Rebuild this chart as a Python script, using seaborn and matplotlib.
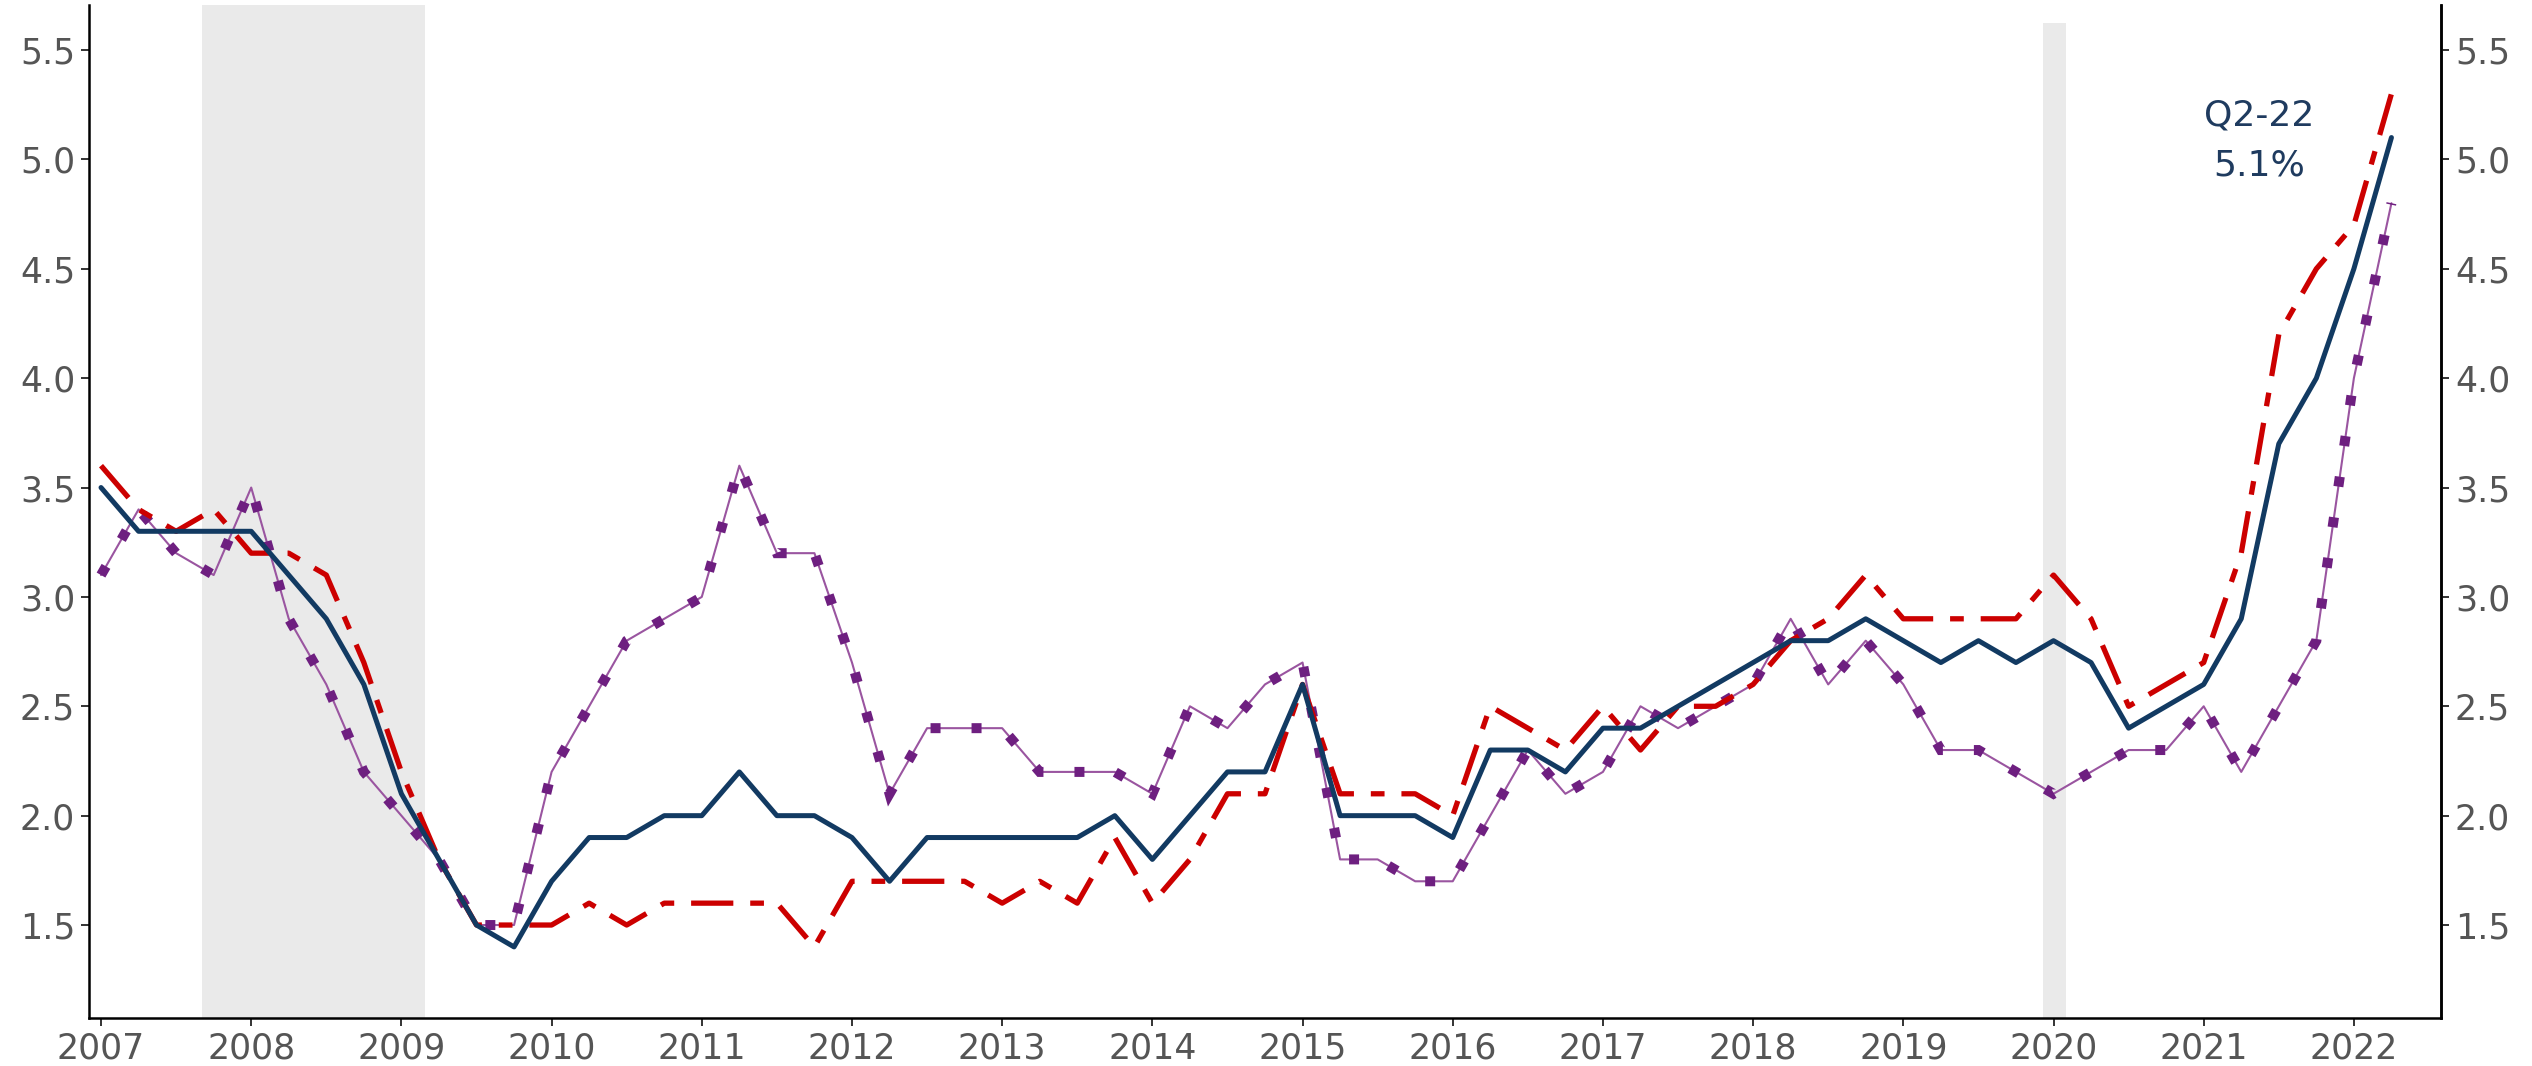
import numpy as np
import pandas as pd
import matplotlib
matplotlib.use("Agg")
import matplotlib.pyplot as plt
import seaborn as sns

# ---------------- data (quarterly, Q1-2007 .. Q2-2022) ----------------
years = [2007, 2008, 2009, 2010, 2011, 2012, 2013, 2014, 2015, 2016,
         2017, 2018, 2019, 2020, 2021, 2022]
n_quarters = 62

series_blue = [3.5, 3.3, 3.3, 3.3, 3.3, 3.1, 2.9, 2.6, 2.1, 1.8,
               1.5, 1.4, 1.7, 1.9, 1.9, 2.0, 2.0, 2.2, 2.0, 2.0,
               1.9, 1.7, 1.9, 1.9, 1.9, 1.9, 1.9, 2.0, 1.8, 2.0,
               2.2, 2.2, 2.6, 2.0, 2.0, 2.0, 1.9, 2.3, 2.3, 2.2,
               2.4, 2.4, 2.5, 2.6, 2.7, 2.8, 2.8, 2.9, 2.8, 2.7,
               2.8, 2.7, 2.8, 2.7, 2.4, 2.5, 2.6, 2.9, 3.7, 4.0,
               4.5, 5.1]

series_red = [3.6, 3.4, 3.3, 3.4, 3.2, 3.2, 3.1, 2.7, 2.2, 1.8,
              1.5, 1.5, 1.5, 1.6, 1.5, 1.6, 1.6, 1.6, 1.6, 1.4,
              1.7, 1.7, 1.7, 1.7, 1.6, 1.7, 1.6, 1.9, 1.6, 1.8,
              2.1, 2.1, 2.6, 2.1, 2.1, 2.1, 2.0, 2.5, 2.4, 2.3,
              2.5, 2.3, 2.5, 2.5, 2.6, 2.8, 2.9, 3.1, 2.9, 2.9,
              2.9, 2.9, 3.1, 2.9, 2.5, 2.6, 2.7, 3.2, 4.2, 4.5,
              4.7, 5.3]

series_purple = [3.1, 3.4, 3.2, 3.1, 3.5, 2.9, 2.6, 2.2, 2.0, 1.8,
                 1.5, 1.5, 2.2, 2.5, 2.8, 2.9, 3.0, 3.6, 3.2, 3.2,
                 2.7, 2.1, 2.4, 2.4, 2.4, 2.2, 2.2, 2.2, 2.1, 2.5,
                 2.4, 2.6, 2.7, 1.8, 1.8, 1.7, 1.7, 2.0, 2.3, 2.1,
                 2.2, 2.5, 2.4, 2.5, 2.6, 2.9, 2.6, 2.8, 2.6, 2.3,
                 2.3, 2.2, 2.1, 2.2, 2.3, 2.3, 2.5, 2.2, 2.5, 2.8,
                 4.0, 4.8]

recessions = [(2007.67, 2009.16, 1.0), (2019.93, 2020.08, 0.982)]
yticks = [1.5, 2.0, 2.5, 3.0, 3.5, 4.0, 4.5, 5.0, 5.5]
annot_label = "Q2-22"
annot_value = "5.1%"

# ---------------- build table ----------------
t = 2007 + np.arange(n_quarters) / 4.0
df = pd.DataFrame({"t": t, "blue": series_blue, "red": series_red,
                   "purple": series_purple})

# ---------------- style ----------------
sns.set_theme(style="ticks")
plt.rcParams["font.family"] = ["DejaVu Sans"]

C_BLUE = "#123a62"
C_RED = "#cc0000"
C_PURPLE_LINE = "#9a55a0"
C_PURPLE_DOT = "#6e1f80"
C_TEXT = "#555555"
C_ANN = "#1f3b5f"

fig = plt.figure(figsize=(25.32, 10.66), dpi=100)
ax = fig.add_axes([89 / 2532, 1 - 1018 / 1066, (2441 - 89) / 2532, (1018 - 5) / 1066])

for x0, x1, top in recessions:
    ax.axvspan(x0, x1, ymin=0, ymax=top, color="#eaeaea", lw=0, zorder=0)

# purple: thin line + square dotted overlay
sns.lineplot(data=df, x="t", y="purple", ax=ax, color=C_PURPLE_LINE,
             linewidth=1.5, zorder=3)
sns.lineplot(data=df, x="t", y="purple", ax=ax, color=C_PURPLE_DOT,
             linewidth=7.2, linestyle=(0, (1, 3.1)), zorder=3)
ax.lines[-1].set_dash_capstyle("butt")
ax.lines[-1].set_dash_joinstyle("miter")

# red dash-dot
sns.lineplot(data=df, x="t", y="red", ax=ax, color=C_RED, linewidth=3.8,
             linestyle=(0, (8, 3.2, 2.6, 3.2)), zorder=4)
# blue solid
sns.lineplot(data=df, x="t", y="blue", ax=ax, color=C_BLUE, linewidth=3.6,
             zorder=5)

ax.set_xlim(2006.92, 2022.58)
ax.set_ylim(1.075, 5.706)
ax.set_xlabel("")
ax.set_ylabel("")
ax.set_xticks(years)
ax.set_xticklabels([str(y) for y in years])
ax.set_yticks(yticks)
ax.set_yticklabels([f"{v:.1f}" for v in yticks])

ax.spines["top"].set_visible(False)
for side in ["left", "bottom", "right"]:
    ax.spines[side].set_visible(True)
    ax.spines[side].set_color("black")
    ax.spines[side].set_linewidth(1.8)

ax.tick_params(axis="both", which="major", length=6, width=1.4,
               color="#333333", labelsize=25, labelcolor=C_TEXT, pad=4,
               direction="out")
ax.grid(False)

# mirrored right axis
ax2 = ax.twinx()
ax2.set_ylim(ax.get_ylim())
ax2.set_yticks(yticks)
ax2.set_yticklabels([f"{v:.1f}" for v in yticks])
ax2.tick_params(axis="y", length=6, width=1.4, color="#333333",
                labelsize=25, labelcolor=C_TEXT, pad=4)
for side in ["top", "left", "bottom"]:
    ax2.spines[side].set_visible(False)
ax2.spines["right"].set_color("black")
ax2.spines["right"].set_linewidth(1.8)
ax2.grid(False)

ax.text(2021.37, 5.20, annot_label, ha="center", va="center",
        fontsize=26, color=C_ANN, zorder=6)
ax.text(2021.37, 4.97, annot_value, ha="center", va="center",
        fontsize=26, color=C_ANN, zorder=6)

fig.savefig("out.png", dpi=100, facecolor="white")
